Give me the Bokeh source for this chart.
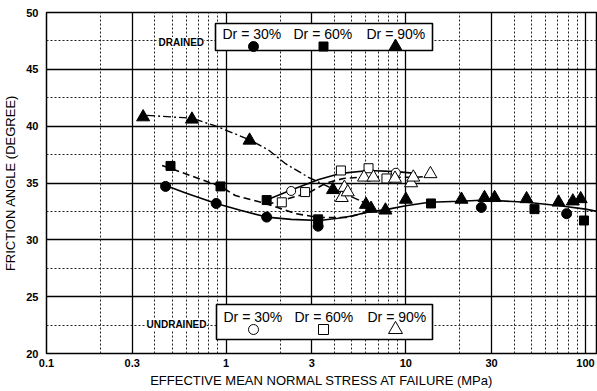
import numpy as np
from bokeh.plotting import figure
from bokeh.models import Range1d, FixedTicker, Grid, Label, CustomJSTickFormatter
from bokeh.embed import file_html
from bokeh.resources import INLINE

# ---------------- data ----------------
# Drained tests (filled markers)
d30_x = [0.46, 0.88, 1.68, 3.25, 26.3, 78.5]
d30_y = [34.7, 33.2, 32.0, 31.2, 32.85, 32.3]
d60_x = [0.49, 0.93, 1.68, 3.25, 13.8, 52.0, 98.0]
d60_y = [36.5, 34.7, 33.5, 31.8, 33.2, 32.7, 31.7]
d90_x = [0.345, 0.645, 1.35, 3.93, 6.0, 6.4, 7.7, 10.0, 20.4, 27.4, 31.2, 47.0, 70.8, 85.0, 94.0]
d90_y = [40.8, 40.6, 38.75, 34.4, 33.1, 32.75, 32.6, 33.55, 33.55, 33.7, 33.7, 33.6, 33.3, 33.4, 33.6]

# Undrained tests (open markers)
u30_x = [2.3, 8.8]
u30_y = [34.3, 35.9]
u60_x = [2.04, 2.75, 4.35, 6.2, 7.8]
u60_y = [33.3, 34.2, 36.1, 36.3, 35.4]
u90_x = [4.4, 4.55, 4.75, 5.85, 6.6, 8.7, 10.7, 11.0, 13.7]
u90_y = [33.7, 34.6, 34.2, 35.5, 35.5, 35.4, 35.0, 35.5, 35.8]

# Trend curves
c_d30_x = [0.43, 0.6, 0.88, 1.2, 1.68, 2.3, 3.3, 4.2, 5.0, 6.0, 8.0, 10.0, 13.5, 20.0, 28.0, 47.0, 72.0, 100.0, 116.0]
c_d30_y = [34.95, 34.1, 33.2, 32.6, 32.0, 31.8, 31.7, 31.9, 32.1, 32.4, 32.7, 33.0, 33.3, 33.4, 33.5, 33.3, 33.0, 32.7, 32.5]
c_d60_x = [0.44, 0.93, 1.125, 1.65, 2.44, 3.28, 4.64, 6.0]
c_d60_y = [36.55, 34.7, 33.9, 33.2, 32.3, 31.96, 31.96, 32.4]
c_d90_x = [0.363, 0.645, 0.88, 1.35, 1.72, 2.14, 2.87, 3.91, 4.8, 6.03]
c_d90_y = [40.95, 40.7, 40.0, 38.8, 37.9, 36.7, 35.5, 34.5, 33.9, 33.2]
c_ua_x = [1.68, 2.32, 3.28, 4.35, 6.24, 8.83, 11.4]
c_ua_y = [33.5, 34.4, 35.3, 35.85, 36.1, 36.0, 35.85]
c_ub_x = [1.68, 2.3, 2.85, 3.6, 4.5, 5.5, 8.0, 11.0, 14.5]
c_ub_y = [33.1, 33.7, 34.1, 35.0, 35.4, 35.5, 35.5, 35.5, 35.6]

x_major = [0.1, 0.3, 1, 3, 10, 30, 100]
x_grid_major = [0.3, 1, 3, 10, 30, 100]
x_grid_minor = [0.2, 0.4, 0.5, 0.6, 0.7, 0.8, 0.9, 2, 4, 5, 6, 7, 8, 9, 20, 40, 50, 60, 70, 80, 90]
y_major = [20, 25, 30, 35, 40, 45, 50]
y_grid_major = [25, 30, 35, 40, 45]
y_grid_minor = [22.5, 27.5, 32.5, 37.5, 42.5, 47.5]
legend_labels = ["Dr = 30%", "Dr = 60%", "Dr = 90%"]

# ---------------- layout ----------------
W, H = 597, 391
FL, FT = 46, 12          # frame left / top (px)
FW, FH = 551, 341        # frame width / height
X0, X1, Y0, Y1 = 0.1, 116.6, 20, 50

def px_to_data(xp, yp):
    lx = np.log10(X0) + (xp - FL) / FW * (np.log10(X1) - np.log10(X0))
    return float(10 ** lx), float(Y1 - (yp - FT) / FH * (Y1 - Y0))

FONT = "Liberation Sans"

p = figure(width=W, height=H, x_axis_type="log",
           x_range=Range1d(X0, X1), y_range=Range1d(Y0, Y1),
           output_backend="svg", toolbar_location=None,
           min_border_left=FL, min_border_right=0, min_border_top=FT,
           min_border_bottom=H - FT - FH)
p.background_fill_color = "white"
p.border_fill_color = "white"
p.outline_line_color = "black"
p.outline_line_width = 1.5

# grids
p.xgrid.ticker = FixedTicker(ticks=x_grid_major)
p.ygrid.ticker = FixedTicker(ticks=y_grid_major)
for g in (p.xgrid, p.ygrid):
    g.grid_line_color = "black"
    g.grid_line_width = 1.3
    g.grid_line_alpha = 1.0
p.add_layout(Grid(dimension=0, ticker=FixedTicker(ticks=x_grid_minor),
                  grid_line_color="#222222", grid_line_width=1, grid_line_dash="2 2"))
p.add_layout(Grid(dimension=1, ticker=FixedTicker(ticks=y_grid_minor),
                  grid_line_color="#222222", grid_line_width=1, grid_line_dash="2 2"))

# axes
p.xaxis.ticker = FixedTicker(ticks=x_major)
p.xaxis.formatter = CustomJSTickFormatter(code="return String(tick);")
p.yaxis.ticker = FixedTicker(ticks=y_major)
for ax in (p.xaxis[0], p.yaxis[0]):
    ax.major_tick_in = 0
    ax.major_tick_out = 0
    ax.minor_tick_in = 0
    ax.minor_tick_out = 0
    ax.axis_line_color = None
    ax.major_label_text_font = FONT
    ax.major_label_text_font_style = "bold"
    ax.major_label_text_font_size = "11px"
    ax.major_label_text_color = "black"
    ax.axis_label_text_font = FONT
    ax.axis_label_text_font_style = "normal"
    ax.axis_label_text_font_size = "13px"
    ax.axis_label_text_color = "black"
p.xaxis.axis_label = "EFFECTIVE MEAN NORMAL STRESS AT FAILURE (MPa)"
p.yaxis.axis_label = "FRICTION ANGLE (DEGREE)"
p.xaxis.major_label_standoff = 5
p.xaxis.axis_label_standoff = 3
p.yaxis.major_label_standoff = 8
p.yaxis.axis_label_standoff = 5

# ---------------- legend boxes ----------------
def add_box(l, t, r, b):
    x_l, y_t = px_to_data(l, t)
    x_r, y_b = px_to_data(r, b)
    p.quad(left=[x_l], right=[x_r], top=[y_t], bottom=[y_b],
           fill_color="white", fill_alpha=1.0, line_color="black", line_width=1.6)

add_box(215, 23, 432, 50)
add_box(216, 304, 432, 339)

# curves
p.line(c_d30_x, c_d30_y, line_color="black", line_width=1.6)
p.line(c_d60_x, c_d60_y, line_color="black", line_width=1.6, line_dash="7 4")
p.line(c_d90_x, c_d90_y, line_color="black", line_width=1.4, line_dash="8 3 2 3")
p.line(c_ua_x, c_ua_y, line_color="black", line_width=1.6)
p.line(c_ub_x, c_ub_y, line_color="black", line_width=1.6, line_dash="7 4")

# markers
p.scatter(d30_x, d30_y, marker="circle", size=10, color="black")
p.scatter(d60_x, d60_y, marker="square", size=9, color="black")
p.scatter(d90_x, d90_y, marker="triangle", size=13, color="black")
p.scatter(u30_x, u30_y, marker="circle", size=9, fill_color="white", line_color="black", line_width=1)
p.scatter(u60_x, u60_y, marker="square", size=9, fill_color="white", line_color="black", line_width=1)
p.scatter(u90_x, u90_y, marker="triangle", size=13, fill_color="white", line_color="black", line_width=1)

def add_text(x, y, txt, size, bold=False, bg=None):
    p.add_layout(Label(x=x - FL, y=FT + FH - y, x_units="screen", y_units="screen",
                       text=txt, text_font=FONT, text_font_size=size,
                       text_font_style="bold" if bold else "normal",
                       text_baseline="middle", text_align="left", text_color="black",
                       background_fill_color=bg))

for lx, lab in zip([222, 293, 366], legend_labels):
    add_text(lx, 33, lab, "14px")
    add_text(lx + 1, 316, lab, "14px")
add_text(158, 42, "DRAINED", "10px", bold=True, bg="white")
add_text(146, 324, "UNDRAINED", "10px", bold=True, bg="white")

mk_px = [253, 323, 395]
top_pts = [px_to_data(xp, 46) for xp in mk_px]
bot_pts = [px_to_data(xp, 329) for xp in mk_px]
for (mx, my), mk, sz in zip(top_pts, ["circle", "square", "triangle"], [10, 9, 13]):
    p.scatter([mx], [my], marker=mk, size=sz, color="black")
for (mx, my), mk, sz in zip(bot_pts, ["circle", "square", "triangle"], [10, 10, 14]):
    p.scatter([mx], [my], marker=mk, size=sz, fill_color="white", line_color="black", line_width=1)

open("out.html", "w").write(file_html(p, INLINE))
